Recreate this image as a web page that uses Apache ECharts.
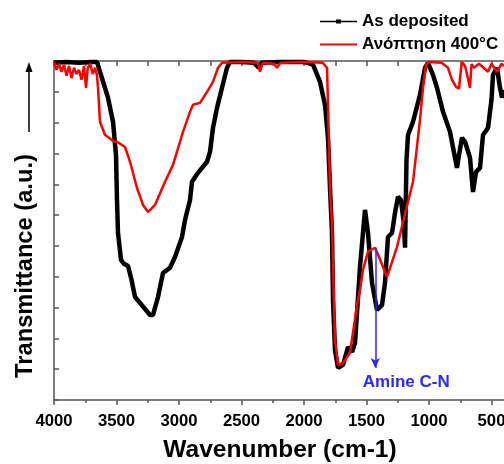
<!DOCTYPE html>
<html>
<head>
<meta charset="utf-8">
<script src="https://cdn.jsdelivr.net/npm/echarts@6/dist/echarts.min.js"></script>
<style>
  html, body { margin: 0; padding: 0; background: #fff; }
  #chart { width: 504px; height: 464px; }
</style>
</head>
<body>
<div id="chart"></div>
<script>
// series names
const seriesNames = ['As deposited', 'Ανόπτηση 400°C'];

// As deposited (wavenumber, transmittance a.u.)
const blackWn = [4000, 3900, 3800, 3700, 3656, 3600, 3568, 3528, 3504, 3496, 3488, 3464, 3440, 3408, 3380, 3352,
  3312, 3232, 3208, 3168, 3128, 3072, 3032, 2976, 2952, 2912, 2896, 2848, 2776, 2752, 2728, 2696, 2656, 2616,
  2592, 2500, 2400, 2360, 2340, 2200, 2000, 1928, 1872, 1832, 1808, 1792, 1776, 1768, 1752, 1728, 1688, 1648,
  1616, 1592, 1552, 1512, 1488, 1456, 1416, 1376, 1352, 1328, 1296, 1272, 1248, 1224, 1200, 1192, 1180, 1168,
  1128, 1072, 1032, 1008, 968, 936, 888, 832, 792, 776, 760, 736, 712, 672, 648, 624, 592, 568, 528, 500, 488,
  456, 432, 416, 400];
const blackT = [10.94, 10.97, 10.94, 10.97, 10.97, 10.23, 9.81, 9.03, 7.95, 6.49, 5.42, 4.55, 4.42, 4.35, 3.90, 3.34,
  3.15, 2.76, 2.76, 3.34, 4.12, 4.29, 4.64, 5.29, 5.84, 6.49, 7.08, 7.37, 7.73, 8.05, 8.83, 9.48, 10.13, 10.78,
  10.97, 10.97, 10.94, 10.78, 10.94, 10.97, 10.97, 10.88, 10.32, 9.58, 8.51, 6.88, 5.42, 3.25, 1.62, 1.04, 1.14, 1.72,
  1.56, 1.85, 4.32, 6.17, 5.42, 3.80, 2.92, 3.08, 3.80, 5.29, 5.42, 6.07, 6.59, 6.49, 5.68, 4.94, 7.79, 8.60,
  9.03, 9.90, 10.78, 10.94, 10.55, 10.13, 9.35, 8.70, 7.86, 7.53, 7.95, 8.51, 8.38, 7.86, 6.75, 7.40, 7.53, 8.60, 8.83, 9.74, 10.55,
  10.78, 10.13, 9.81, 10.06];

// Ανόπτηση 400°C (wavenumber, transmittance a.u.)
const redWn = [4000, 3980, 3960, 3940, 3920, 3900, 3880, 3860, 3840, 3820, 3800, 3780, 3760, 3744, 3730, 3710, 3690,
  3670, 3656, 3648, 3632, 3592, 3560, 3520, 3496, 3432, 3392, 3336, 3288, 3248, 3192, 3112, 3048, 2968, 2912,
  2888, 2832, 2776, 2728, 2688, 2656, 2500, 2370, 2352, 2330, 2240, 2216, 2190, 2000, 1850, 1816, 1808, 1792,
  1776, 1768, 1752, 1728, 1688, 1632, 1576, 1552, 1528, 1488, 1432, 1400, 1336, 1256, 1176, 1128, 1072, 1048,
  1024, 1000, 900, 848, 816, 784, 760, 748, 736, 712, 692, 672, 660, 640, 600, 528, 500, 456, 420, 400];
const redT = [10.97, 10.71, 10.91, 10.65, 10.88, 10.52, 10.84, 10.45, 10.78, 10.58, 10.71, 10.39, 10.84, 10.13, 10.78, 10.91, 10.58,
  10.78, 10.52, 10.13, 9.03, 8.60, 8.51, 8.38, 8.38, 8.21, 7.73, 6.88, 6.33, 6.10, 6.33, 7.08, 7.63, 8.70, 9.35,
  9.58, 9.64, 10.00, 10.32, 10.78, 10.94, 10.97, 10.94, 10.65, 10.94, 10.91, 10.78, 10.94, 10.97, 10.94, 10.78, 9.58, 6.88,
  5.68, 4.32, 1.95, 1.14, 1.20, 1.53, 3.08, 3.57, 4.22, 4.81, 4.94, 4.64, 3.99, 4.97, 6.30, 7.08, 9.10, 10.13,
  10.88, 10.97, 10.94, 10.78, 10.39, 10.16, 10.10, 10.60, 10.97, 10.84, 10.50, 10.13, 10.90, 10.78, 10.91, 10.65, 10.91, 10.65, 10.91, 10.84];

// x tick labels and annotation
const xTickLabels = [4000, 3500, 3000, 2500, 2000, 1500, 1000, 500];
const amineWn = 1430;
const amineFrom = 4.94;
const amineTo = 1.04;
const amineLabelAt = 0.58;

const FONT = 'Arial, "Liberation Sans", sans-serif';

function zip(xs, ys) {
    return xs.map((x, i) => [x, ys[i]]);
}

const chart = echarts.init(document.getElementById('chart'));

const axisLine = { show: true, onZero: false, lineStyle: { color: '#555', width: 1.5 } };
const tickStyle = { color: '#555', width: 1.5 };

// legend icons: line with a small square / plain line
const blackIcon = 'path://M0,4.2H16V3H21V4.2H37V5.8H21V7H16V5.8H0Z';
const redIcon = 'path://M0,4.1H37V5.9H0Z';

const option = {
    animation: false,
    backgroundColor: '#fff',
    grid: { left: 54, top: 61, width: 500, height: 339, outerBoundsMode: 'none', containLabel: false },
    legend: {
        orient: 'vertical',
        left: 320,
        top: 13,
        padding: 0,
        itemWidth: 37,
        itemHeight: 10,
        itemGap: 6,
        textStyle: { fontFamily: FONT, fontWeight: 'bold', fontSize: 17, color: '#000' },
        data: [
            { name: seriesNames[0], icon: blackIcon, itemStyle: { color: '#000' } },
            { name: seriesNames[1], icon: redIcon, itemStyle: { color: '#ff0000' } }
        ]
    },
    xAxis: [{
        type: 'value',
        min: 0,
        max: 4000,
        interval: 500,
        inverse: true,
        position: 'bottom',
        axisLine: axisLine,
        axisTick: { show: true, inside: false, length: 5, lineStyle: tickStyle },
        minorTick: { show: true, splitNumber: 2, length: 3, lineStyle: tickStyle },
        splitLine: { show: false },
        axisLabel: {
            margin: 13,
            fontFamily: FONT, fontWeight: 'bold', fontSize: 16.7, color: '#000',
            formatter: v => xTickLabels.includes(v) ? String(v) : ''
        }
    }, {
        type: 'value',
        min: 0,
        max: 4000,
        interval: 250,
        inverse: true,
        position: 'top',
        axisLine: axisLine,
        axisTick: { show: true, inside: true, length: 5, lineStyle: tickStyle },
        splitLine: { show: false },
        axisLabel: { show: false }
    }],
    yAxis: {
        type: 'value',
        min: 0,
        max: 11,
        interval: 1,
        position: 'left',
        axisLine: axisLine,
        axisTick: { show: true, inside: true, length: 5, lineStyle: tickStyle },
        splitLine: { show: false },
        axisLabel: { show: false }
    },
    series: [{
        name: seriesNames[0],
        type: 'line',
        data: zip(blackWn, blackT),
        symbol: 'none',
        itemStyle: { color: '#000' },
        lineStyle: { color: '#000', width: 4.5 },
        z: 2
    }, {
        name: seriesNames[1],
        type: 'line',
        data: zip(redWn, redT),
        symbol: 'none',
        itemStyle: { color: '#ff0000' },
        lineStyle: { color: '#ff0000', width: 2.5 },
        z: 3,
        markLine: {
            silent: true,
            symbol: ['none', 'arrow'],
            symbolSize: [7, 10],
            lineStyle: { color: '#2a2aff', width: 1.5, type: 'solid' },
            label: { show: false },
            data: [[{ coord: [amineWn, amineFrom] }, { coord: [amineWn, amineTo] }]]
        },
        markPoint: {
            silent: true,
            symbol: 'circle',
            symbolSize: 0,
            label: {
                show: true,
                position: 'inside',
                offset: [31, 0],
                formatter: 'Amine C-N',
                fontFamily: FONT, fontWeight: 'bold', fontSize: 17, color: '#2a2aff'
            },
            data: [{ coord: [amineWn, amineLabelAt] }]
        }
    }],
    graphic: [{
        type: 'text',
        x: 280, y: 450,
        style: {
            text: 'Wavenumber (cm-1)',
            align: 'center', verticalAlign: 'middle',
            font: 'bold 24.5px ' + FONT, fill: '#000'
        }
    }, {
        type: 'text',
        x: 25, y: 266,
        rotation: Math.PI / 2,
        style: {
            text: 'Transmittance (a.u.)',
            align: 'center', verticalAlign: 'middle',
            font: 'bold 23.7px ' + FONT, fill: '#000'
        }
    }, {
        type: 'line',
        shape: { x1: 29, y1: 132, x2: 29, y2: 70 },
        style: { stroke: '#000', lineWidth: 1.5 }
    }, {
        type: 'polygon',
        shape: { points: [[29, 62], [25.5, 72], [32.5, 72]] },
        style: { fill: '#000' }
    }]
};

chart.setOption(option);
</script>
</body>
</html>
